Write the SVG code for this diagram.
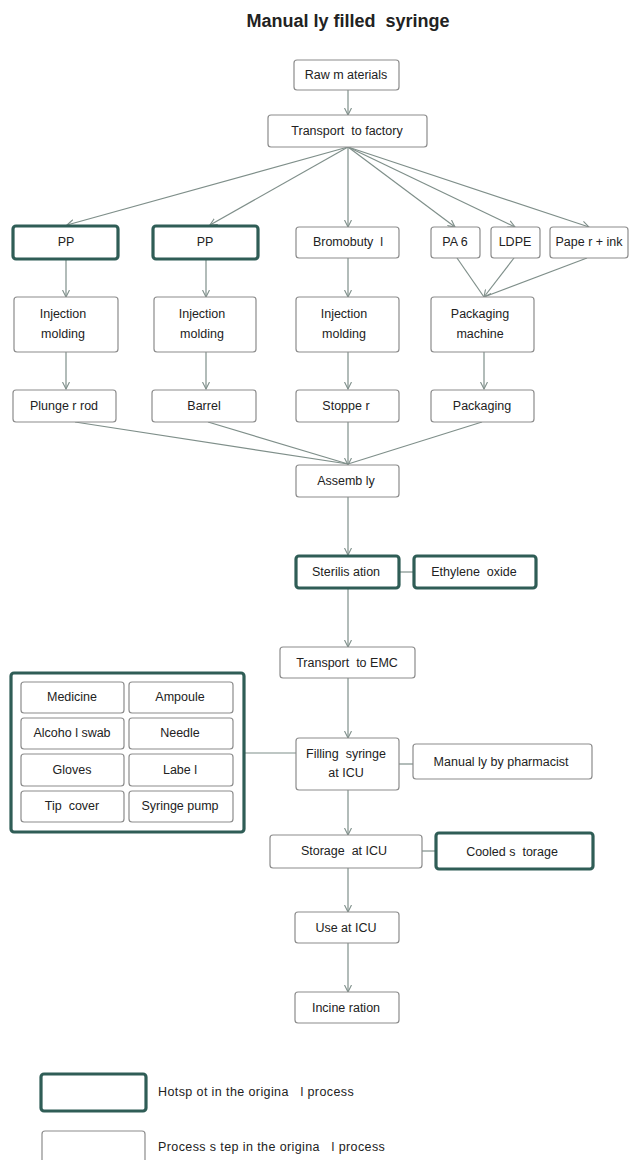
<svg xmlns="http://www.w3.org/2000/svg" width="632" height="1160" viewBox="0 0 632 1160" xml:space="preserve">
<style>
.n{fill:#fff;stroke:#8c8c8c;stroke-width:1.2}
.h{fill:#fff;stroke:#2f5d56;stroke-width:3.2}
.t{font-family:"Liberation Sans",Arial,sans-serif;font-size:12.5px;fill:#222;text-anchor:middle;dominant-baseline:central;white-space:pre}
.l{font-family:"Liberation Sans",Arial,sans-serif;font-size:12.5px;fill:#222;dominant-baseline:central;white-space:pre}
.c{stroke:#7f8f8a;stroke-width:1.2;fill:none}
</style>
<defs>
<marker id="a" viewBox="0 0 8 8" refX="7" refY="4" markerWidth="8" markerHeight="8" markerUnits="userSpaceOnUse" orient="auto">
<path d="M0,0.5 L7,4 L0,7.5" fill="none" stroke="#7f8f8a" stroke-width="1.1"/>
</marker>
</defs>
<text x="348" y="21" style="font-family:'Liberation Sans',Arial,sans-serif;font-size:18px;font-weight:bold;fill:#222;text-anchor:middle;dominant-baseline:central;white-space:pre">Manual ly filled  syringe</text>
<g id="connectors">
<line class="c" x1="348" y1="90" x2="348" y2="115" marker-end="url(#a)"/>
<line class="c" x1="348" y1="147" x2="67" y2="225" marker-end="url(#a)"/>
<line class="c" x1="348" y1="147" x2="210" y2="225" marker-end="url(#a)"/>
<line class="c" x1="348" y1="147" x2="348" y2="227" marker-end="url(#a)"/>
<line class="c" x1="348" y1="147" x2="455" y2="227" marker-end="url(#a)"/>
<line class="c" x1="348" y1="147" x2="515" y2="227" marker-end="url(#a)"/>
<line class="c" x1="348" y1="147" x2="589" y2="227" marker-end="url(#a)"/>
<line class="c" x1="66" y1="260" x2="66" y2="297" marker-end="url(#a)"/>
<line class="c" x1="206" y1="260" x2="206" y2="297" marker-end="url(#a)"/>
<line class="c" x1="348" y1="258" x2="348" y2="297" marker-end="url(#a)"/>
<line class="c" x1="457" y1="258" x2="484" y2="297"/>
<line class="c" x1="514" y1="258" x2="484" y2="297" marker-end="url(#a)"/>
<line class="c" x1="587" y1="258" x2="484" y2="297"/>
<line class="c" x1="66" y1="352" x2="66" y2="389" marker-end="url(#a)"/>
<line class="c" x1="206" y1="352" x2="206" y2="389" marker-end="url(#a)"/>
<line class="c" x1="348" y1="352" x2="348" y2="389" marker-end="url(#a)"/>
<line class="c" x1="484" y1="352" x2="484" y2="389" marker-end="url(#a)"/>
<line class="c" x1="75" y1="422" x2="348" y2="464"/>
<line class="c" x1="208" y1="422" x2="348" y2="464"/>
<line class="c" x1="482" y1="422" x2="348" y2="464"/>
<line class="c" x1="348" y1="422" x2="348" y2="465" marker-end="url(#a)"/>
<line class="c" x1="348" y1="497" x2="348" y2="555" marker-end="url(#a)"/>
<line class="c" x1="400" y1="572" x2="413" y2="572"/>
<line class="c" x1="348" y1="589" x2="348" y2="647" marker-end="url(#a)"/>
<line class="c" x1="348" y1="678" x2="348" y2="738" marker-end="url(#a)"/>
<line class="c" x1="233" y1="753" x2="296" y2="753"/>
<line class="c" x1="399" y1="764" x2="413" y2="764"/>
<line class="c" x1="348" y1="790" x2="348" y2="835" marker-end="url(#a)"/>
<line class="c" x1="422" y1="851" x2="435" y2="851"/>
<line class="c" x1="348" y1="868" x2="348" y2="912" marker-end="url(#a)"/>
<line class="c" x1="348" y1="943" x2="348" y2="992" marker-end="url(#a)"/>
</g>
<g id="raw"><rect class="n" x="294" y="60" width="105" height="30" rx="3"/><text class="t" x="346" y="75">Raw m aterials</text></g>
<g id="transport"><rect class="n" x="268" y="115" width="159" height="32" rx="3"/><text class="t" x="347" y="131">Transport  to factory</text></g>
<g id="pp1"><rect class="h" x="13" y="226" width="105" height="33" rx="3"/><text class="t" x="66" y="242">PP</text></g>
<g id="pp2"><rect class="h" x="153" y="226" width="105" height="33" rx="3"/><text class="t" x="205" y="242">PP</text></g>
<g id="bromo"><rect class="n" x="296" y="227" width="103" height="31" rx="3"/><text class="t" x="348" y="242">Bromobuty  l</text></g>
<g id="pa6"><rect class="n" x="431" y="227" width="49" height="31" rx="3"/><text class="t" x="455" y="242">PA 6</text></g>
<g id="ldpe"><rect class="n" x="491" y="227" width="49" height="31" rx="3"/><text class="t" x="515" y="242">LDPE</text></g>
<g id="paper"><rect class="n" x="550" y="227" width="78" height="31" rx="3"/><text class="t" x="589" y="242">Pape r + ink</text></g>
<g id="im1"><rect class="n" x="14" y="297" width="104" height="55" rx="3"/><text class="t" x="63" y="314">Injection</text><text class="t" x="63" y="334">molding</text></g>
<g id="im2"><rect class="n" x="154" y="297" width="102" height="55" rx="3"/><text class="t" x="202" y="314">Injection</text><text class="t" x="202" y="334">molding</text></g>
<g id="im3"><rect class="n" x="296" y="297" width="103" height="55" rx="3"/><text class="t" x="344" y="314">Injection</text><text class="t" x="344" y="334">molding</text></g>
<g id="pm"><rect class="n" x="431" y="297" width="103" height="55" rx="3"/><text class="t" x="480" y="314">Packaging</text><text class="t" x="480" y="334">machine</text></g>
<g id="plunger"><rect class="n" x="13" y="390" width="103" height="32" rx="3"/><text class="t" x="64" y="406">Plunge r rod</text></g>
<g id="barrel"><rect class="n" x="152" y="390" width="104" height="32" rx="3"/><text class="t" x="204" y="406">Barrel</text></g>
<g id="stopper"><rect class="n" x="296" y="390" width="103" height="32" rx="3"/><text class="t" x="346" y="406">Stoppe r</text></g>
<g id="packaging"><rect class="n" x="431" y="390" width="103" height="32" rx="3"/><text class="t" x="482" y="406">Packaging</text></g>
<g id="assembly"><rect class="n" x="296" y="465" width="103" height="32" rx="3"/><text class="t" x="346" y="481">Assemb ly</text></g>
<g id="steril"><rect class="h" x="296" y="556" width="103" height="32" rx="3"/><text class="t" x="346" y="572">Sterilis ation</text></g>
<g id="eo"><rect class="h" x="414" y="556" width="122" height="32" rx="3"/><text class="t" x="474" y="572">Ethylene  oxide</text></g>
<g id="temc"><rect class="n" x="280" y="647" width="135" height="31" rx="3"/><text class="t" x="347" y="663">Transport  to EMC</text></g>
<g id="group"><rect class="h" x="11" y="673" width="233" height="159" rx="3"/>
<rect class="n" x="21" y="682" width="103" height="31" rx="3"/><text class="t" x="72" y="697">Medicine</text>
<rect class="n" x="129" y="682" width="104" height="31" rx="3"/><text class="t" x="180" y="697">Ampoule</text>
<rect class="n" x="21" y="718" width="103" height="31" rx="3"/><text class="t" x="72" y="733">Alcoho l swab</text>
<rect class="n" x="129" y="718" width="104" height="31" rx="3"/><text class="t" x="180" y="733">Needle</text>
<rect class="n" x="21" y="754" width="103" height="32" rx="3"/><text class="t" x="72" y="770">Gloves</text>
<rect class="n" x="129" y="754" width="104" height="32" rx="3"/><text class="t" x="180" y="770">Labe l</text>
<rect class="n" x="21" y="791" width="103" height="31" rx="3"/><text class="t" x="72" y="806">Tip  cover</text>
<rect class="n" x="129" y="791" width="104" height="31" rx="3"/><text class="t" x="180" y="806">Syringe pump</text>
</g>
<g id="filling"><rect class="n" x="296" y="738" width="103" height="52" rx="3"/><text class="t" x="346" y="754">Filling  syringe</text><text class="t" x="346" y="773">at ICU</text></g>
<g id="manual"><rect class="n" x="413" y="744" width="179" height="35" rx="3"/><text class="t" x="501" y="762">Manual ly by pharmacist</text></g>
<g id="storage"><rect class="n" x="270" y="835" width="152" height="33" rx="3"/><text class="t" x="344" y="851">Storage  at ICU</text></g>
<g id="cooled"><rect class="h" x="436" y="833" width="157" height="36" rx="3"/><text class="t" x="512" y="852">Cooled s  torage</text></g>
<g id="use"><rect class="n" x="295" y="912" width="104" height="31" rx="3"/><text class="t" x="346" y="928">Use at ICU</text></g>
<g id="incin"><rect class="n" x="295" y="992" width="104" height="31" rx="3"/><text class="t" x="346" y="1008">Incine ration</text></g>
<g id="legend">
<rect class="h" x="41" y="1074" width="105" height="37" rx="3"/>
<text class="l" x="158" y="1092" style="letter-spacing:0.4px">Hotsp ot in the origina   l process</text>
<rect class="n" x="42" y="1131" width="103" height="35" rx="3"/>
<text class="l" x="158" y="1147" style="letter-spacing:0.4px">Process s tep in the origina   l process</text>
</g>
</svg>
